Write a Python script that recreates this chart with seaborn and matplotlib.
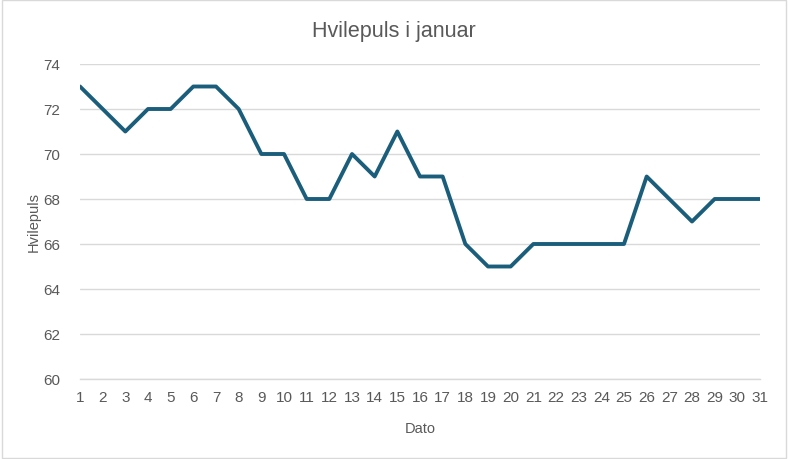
import matplotlib
matplotlib.use("Agg")
import matplotlib.pyplot as plt
import seaborn as sns
import pandas as pd

dager = list(range(1, 32))
hvilepuls = [73, 72, 71, 72, 72, 73, 73, 72, 70, 70, 68, 68, 70, 69, 71, 69, 69,
             66, 65, 65, 66, 66, 66, 66, 66, 69, 68, 67, 68, 68, 68]
y_ticks = [60, 62, 64, 66, 68, 70, 72, 74]
title = "Hvilepuls i januar"
xlabel = "Dato"
ylabel = "Hvilepuls"

df = pd.DataFrame({"Dato": dager, "Hvilepuls": hvilepuls})

sns.set_theme(style="white")
plt.rcParams['font.family'] = ['Liberation Sans', 'DejaVu Sans']

fig = plt.figure(figsize=(7.88, 4.60), dpi=100)
ax = fig.add_axes([80/788, 1 - 380/460, (760 - 80)/788, (380 - 65)/460])

sns.lineplot(data=df, x="Dato", y="Hvilepuls", ax=ax, color="#1B5E7C", linewidth=2.8)

ax.set_xlim(1, 31)
ax.set_ylim(60, 74)
ax.set_yticks(y_ticks)
ax.set_xticks(dager)
ax.yaxis.grid(True, color="#D9D9D9", linewidth=1)
ax.set_axisbelow(True)
for s in ["top", "right", "left"]:
    ax.spines[s].set_visible(False)
ax.spines["bottom"].set_color("#D9D9D9")
ax.spines["bottom"].set_linewidth(1)
ax.tick_params(axis="both", length=0, labelsize=11, colors="#595959", pad=8)
ax.tick_params(axis="y", pad=14)
ax.set_xlabel(xlabel, fontsize=10.5, color="#595959", labelpad=12)
ax.set_ylabel(ylabel, fontsize=10.5, color="#595959", labelpad=2)
fig.text(0.5, 1 - 32/460, title, ha="center", va="center", fontsize=15.5, color="#595959")

border = plt.Rectangle((0.002, 0.003), 0.995, 0.994, transform=fig.transFigure,
                       fill=False, edgecolor="#D9D9D9", linewidth=1)
fig.patches.append(border)

fig.savefig("out.png", dpi=100)
